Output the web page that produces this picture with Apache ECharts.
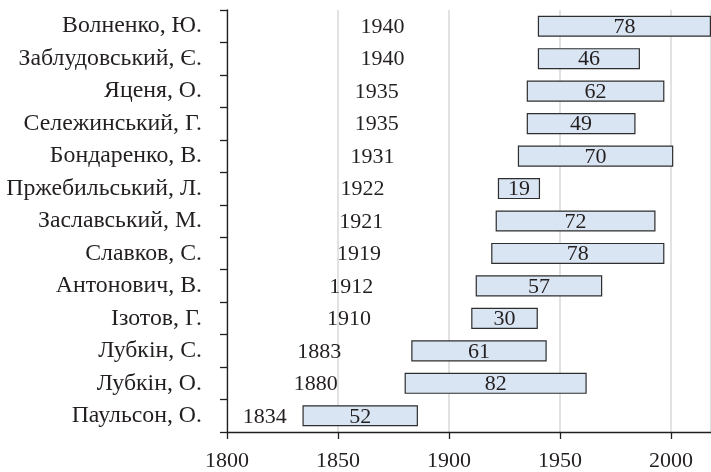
<!DOCTYPE html>
<html>
<head>
<meta charset="utf-8">
<script src="https://cdn.jsdelivr.net/npm/echarts@6/dist/echarts.min.js"></script>
<style>
  html, body { margin: 0; padding: 0; background: #fff; }
  #chart { width: 711px; height: 472px; }
</style>
</head>
<body>
<div id="chart"></div>
<script>
// Names, listed top to bottom
const names = [
  'Волненко, Ю.', 'Заблудовський, Є.', 'Яценя, О.', 'Сележинський, Г.',
  'Бондаренко, В.', 'Пржебильський, Л.', 'Заславський, М.', 'Славков, С.',
  'Антонович, В.', 'Ізотов, Г.', 'Лубкін, С.', 'Лубкін, О.', 'Паульсон, О.'
];
// Year of birth
const birthYears = [1940, 1940, 1935, 1935, 1931, 1922, 1921, 1919, 1912, 1910, 1883, 1880, 1834];
// Years lived
const lifespans = [78, 46, 62, 49, 70, 19, 72, 78, 57, 30, 61, 82, 52];
// Time axis
const axisStartYear = 1800;
const axisEndYear = 2018;
const tickStep = 50;

const FONT = '"Liberation Serif", "DejaVu Serif", serif';
const TEXT = '#231f20';
const NUM_SIZE = 22;
const NAME_SIZE = 23.8;

// Bars are measured from the start of the time axis
const offsetBirth = birthYears.map(y => y - axisStartYear);

const chart = echarts.init(document.getElementById('chart'));
chart.setOption({
  animation: false,
  grid: { left: 227, right: 0, top: 10, bottom: 39, containLabel: false },
  xAxis: {
    type: 'value',
    min: 0,
    max: axisEndYear - axisStartYear,
    interval: tickStep,
    axisLine: { show: true, lineStyle: { color: '#231f20', width: 1.3 } },
    axisTick: { show: true, length: 7, lineStyle: { color: '#231f20', width: 1.3 } },
    axisLabel: {
      margin: 18,
      color: TEXT, fontFamily: FONT, fontSize: NUM_SIZE,
      formatter: v => String(v + axisStartYear),
      showMaxLabel: false
    },
    splitLine: { show: true, lineStyle: { color: '#d9d9d9', width: 1.5 } }
  },
  yAxis: {
    type: 'category',
    data: names,
    inverse: true,
    axisLine: { show: true, lineStyle: { color: '#231f20', width: 1.3 } },
    axisTick: { show: true, length: 7, inside: false, lineStyle: { color: '#231f20', width: 1.3 } },
    axisLabel: { margin: 25, color: TEXT, fontFamily: FONT, fontSize: NAME_SIZE },
    splitLine: { show: false }
  },
  series: [
    {
      name: 'birth',
      type: 'bar',
      stack: 'life',
      barWidth: '65%',
      itemStyle: { color: 'rgba(0,0,0,0)' },
      label: {
        show: true, position: 'inside', offset: [0, 1],
        color: TEXT, fontFamily: FONT, fontSize: NUM_SIZE,
        formatter: p => String(birthYears[p.dataIndex])
      },
      data: offsetBirth
    },
    {
      name: 'lifespan',
      type: 'bar',
      stack: 'life',
      barWidth: '65%',
      itemStyle: { color: '#dae5f3', borderColor: '#2e2e2e', borderWidth: 1.2 },
      label: {
        show: true, position: 'inside', offset: [0, 1],
        color: TEXT, fontFamily: FONT, fontSize: NUM_SIZE,
        formatter: p => String(lifespans[p.dataIndex])
      },
      data: lifespans
    }
  ]
});
</script>
</body>
</html>
